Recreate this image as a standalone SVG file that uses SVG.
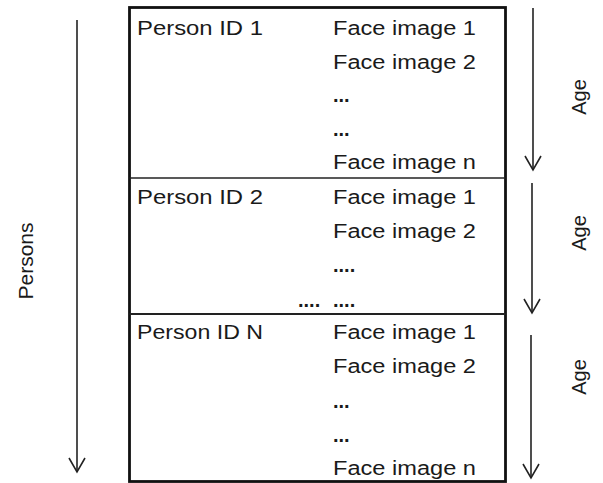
<svg xmlns="http://www.w3.org/2000/svg" width="603" height="483" viewBox="0 0 603 483">
<defs>
<style>
.t{font-family:"Liberation Sans",Arial,sans-serif;font-size:20px;fill:#1a1a1a}
.d{font-family:"Liberation Sans",Arial,sans-serif;font-size:20px;font-weight:bold;fill:#1a1a1a}
.lbl{font-family:"Liberation Sans",Arial,sans-serif;fill:#1a1a1a;text-anchor:middle}
.ln{stroke:#222;stroke-width:1.6;fill:none}
.ah{stroke:#222;stroke-width:1.6;fill:none;stroke-linejoin:miter}
</style>
</defs>
<rect x="0" y="0" width="603" height="483" fill="#fff"/>
<g id="table">
<rect x="129.5" y="7.5" width="376" height="474" fill="#fff" stroke="#111" stroke-width="2.8"/>
<line x1="129.5" y1="178" x2="505.5" y2="178" stroke="#222" stroke-width="1.5"/>
<line x1="129.5" y1="314" x2="505.5" y2="314" stroke="#222" stroke-width="1.8"/>
</g>
<g id="person1">
<text class="t" x="137" y="35" textLength="126" lengthAdjust="spacingAndGlyphs">Person ID 1</text>
<text class="t" x="333" y="35" textLength="143" lengthAdjust="spacingAndGlyphs">Face image 1</text>
<text class="t" x="333" y="68.5" textLength="143" lengthAdjust="spacingAndGlyphs">Face image 2</text>
<text class="d" x="333" y="102">...</text>
<text class="d" x="333" y="135.5">...</text>
<text class="t" x="333" y="169" textLength="143" lengthAdjust="spacingAndGlyphs">Face image n</text>
</g>
<g id="person2">
<text class="t" x="137" y="204" textLength="126" lengthAdjust="spacingAndGlyphs">Person ID 2</text>
<text class="t" x="333" y="204" textLength="143" lengthAdjust="spacingAndGlyphs">Face image 1</text>
<text class="t" x="333" y="238" textLength="143" lengthAdjust="spacingAndGlyphs">Face image 2</text>
<text class="d" x="333" y="272">....</text>
<text class="d" x="298" y="306.5">....</text>
<text class="d" x="333" y="306.5">....</text>
</g>
<g id="personN">
<text class="t" x="137" y="339" textLength="126" lengthAdjust="spacingAndGlyphs">Person ID N</text>
<text class="t" x="333" y="339" textLength="143" lengthAdjust="spacingAndGlyphs">Face image 1</text>
<text class="t" x="333" y="373" textLength="143" lengthAdjust="spacingAndGlyphs">Face image 2</text>
<text class="d" x="333" y="408">...</text>
<text class="d" x="333" y="442">...</text>
<text class="t" x="333" y="475" textLength="143" lengthAdjust="spacingAndGlyphs">Face image n</text>
</g>
<g id="connectors">
<line class="ln" x1="77" y1="20" x2="77" y2="472"/>
<polyline class="ah" points="69,458 77,472 85,458"/>
<line class="ln" x1="533" y1="8" x2="533" y2="170"/>
<polyline class="ah" points="525,156 533,170 541,156"/>
<line class="ln" x1="532" y1="183" x2="532" y2="313"/>
<polyline class="ah" points="524,299 532,313 540,299"/>
<line class="ln" x1="531" y1="335" x2="531" y2="478"/>
<polyline class="ah" points="523,464 531,478 539,464"/>
</g>
<g id="labels">
<text class="lbl" font-size="21" transform="translate(33,261) rotate(-90)">Persons</text>
<text class="lbl" font-size="20" transform="translate(586,97) rotate(-90)">Age</text>
<text class="lbl" font-size="20" transform="translate(586,233) rotate(-90)">Age</text>
<text class="lbl" font-size="20" transform="translate(586,377) rotate(-90)">Age</text>
</g>
</svg>
